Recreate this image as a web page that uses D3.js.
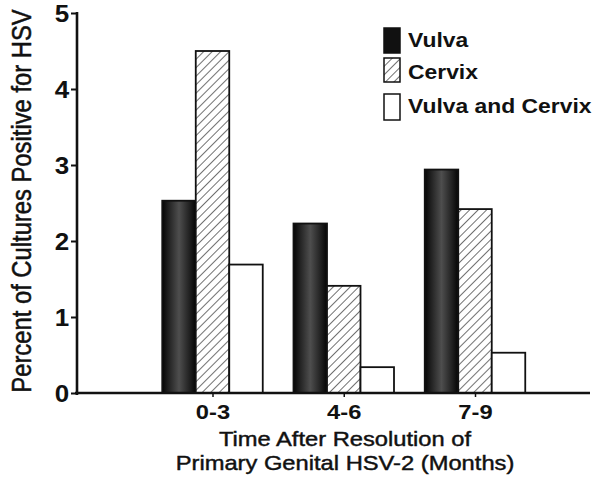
<!DOCTYPE html>
<html><head><meta charset="utf-8">
<script src="https://cdn.jsdelivr.net/npm/d3@7"></script>
<style>body{margin:0;background:#fff}</style>
</head><body>
<script>
const categories = ["0-3", "4-6", "7-9"];
const seriesNames = ["Vulva", "Cervix", "Vulva and Cervix"];
const vulva = [2.53, 2.23, 2.94];
const cervix = [4.5, 1.41, 2.42];
const vulvaCervix = [1.69, 0.34, 0.53];
const yTicks = [0, 1, 2, 3, 4, 5];

const W = 600, H = 480;
const SX = 1.13; // horizontal stretch of the scanned lettering
const svg = d3.select("body").append("svg").attr("width", W).attr("height", H)
  .style("font-family", "'Liberation Sans', Arial, sans-serif");
const defs = svg.append("defs");
const grad = defs.append("linearGradient").attr("id", "dark").attr("x1", "0").attr("x2", "1").attr("y1", "0").attr("y2", "0");
grad.append("stop").attr("offset", "0").attr("stop-color", "#050505");
grad.append("stop").attr("offset", "0.25").attr("stop-color", "#2a2a2a");
grad.append("stop").attr("offset", "0.5").attr("stop-color", "#4e4e4e");
grad.append("stop").attr("offset", "0.75").attr("stop-color", "#2a2a2a");
grad.append("stop").attr("offset", "1").attr("stop-color", "#050505");
const hatch = defs.append("pattern").attr("id", "hatch").attr("patternUnits", "userSpaceOnUse")
  .attr("width", 6).attr("height", 6).attr("patternTransform", "rotate(45)");
hatch.append("rect").attr("width", 6).attr("height", 6).attr("fill", "#fff");
hatch.append("line").attr("x1", 0).attr("y1", 0).attr("x2", 0).attr("y2", 6).attr("stroke", "#111").attr("stroke-width", 1.2);

const x0 = 77, x1 = 590, yTop = 13, yBot = 393;
const x = d3.scaleLinear().domain([1, 3]).range([212.5, 475]);
const y = d3.scaleLinear().domain([0, 5]).range([yBot, yTop]);
const bw = 33.5;
const fills = ["url(#dark)", "url(#hatch)", "#fff"];
const data = [vulva, cervix, vulvaCervix];

// bars
data.forEach((vals, s) => {
  svg.append("g").selectAll("rect").data(vals).join("rect")
    .attr("x", (d, i) => x(i + 1) + (s - 1.5) * bw)
    .attr("y", d => y(d))
    .attr("width", bw)
    .attr("height", d => yBot - y(d))
    .attr("fill", fills[s])
    .attr("stroke", "#111").attr("stroke-width", 1.8);
});

// y axis
const yAxis = d3.axisLeft(y).tickValues(yTicks).tickSize(6).tickPadding(1).tickFormat(d3.format("d"));
const gy = svg.append("g").attr("transform", `translate(${x0},0)`).call(yAxis);
gy.select(".domain").remove();
gy.selectAll(".tick line").attr("stroke", "#111").attr("stroke-width", 2);
gy.selectAll(".tick text").attr("font-size", 23).attr("font-weight", "bold").attr("fill", "#111")
  .attr("dy", "0.36em").attr("transform", `scale(${SX},1)`);
svg.append("line").attr("x1", x0).attr("x2", x0).attr("y1", yTop - 1).attr("y2", yBot + 2).attr("stroke", "#111").attr("stroke-width", 2.6);

// x axis
const xAxis = d3.axisBottom(x).tickValues([1, 2, 3]).tickSize(4).tickPadding(7).tickFormat((d) => categories[d - 1]);
const gx = svg.append("g").attr("transform", `translate(0,${yBot})`).call(xAxis);
gx.select(".domain").remove();
gx.selectAll(".tick line").attr("stroke", "#111").attr("stroke-width", 1.5);
gx.selectAll(".tick text").attr("font-size", 21).attr("font-weight", "bold").attr("fill", "#111")
  .attr("transform", `scale(${SX},1)`);
svg.append("line").attr("x1", x0 - 2).attr("x2", x1).attr("y1", yBot).attr("y2", yBot).attr("stroke", "#111").attr("stroke-width", 2.6);

// axis titles
svg.append("text").attr("transform", `translate(31,201) rotate(-90) scale(1,${SX})`)
  .attr("text-anchor", "middle").attr("font-size", 23.8).attr("fill", "#111")
  .attr("stroke", "#111").attr("stroke-width", 0.45)
  .text("Percent of Cultures Positive for HSV");
svg.append("text").attr("transform", `translate(345,446) scale(${SX},1)`).attr("text-anchor", "middle").attr("font-size", 21)
  .attr("fill", "#111").attr("stroke", "#111").attr("stroke-width", 0.45).text("Time After Resolution of");
svg.append("text").attr("transform", `translate(345,470) scale(${SX},1)`).attr("text-anchor", "middle").attr("font-size", 21)
  .attr("fill", "#111").attr("stroke", "#111").attr("stroke-width", 0.45).text("Primary Genital HSV-2 (Months)");

// legend
const legendY = [28, 58, 94];
const legendH = [25, 24, 26];
const legendBase = [47, 79, 113];
const lg = svg.append("g");
seriesNames.forEach((n, i) => {
  lg.append("rect").attr("x", 384).attr("y", legendY[i]).attr("width", 16).attr("height", legendH[i])
    .attr("fill", i === 0 ? "#111" : fills[i]).attr("stroke", "#111").attr("stroke-width", 1.5);
  lg.append("text").attr("transform", `translate(408,${legendBase[i]}) scale(1.09,1)`).attr("font-size", 21).attr("font-weight", "bold")
    .attr("fill", "#111").text(n);
});
</script>
</body></html>
